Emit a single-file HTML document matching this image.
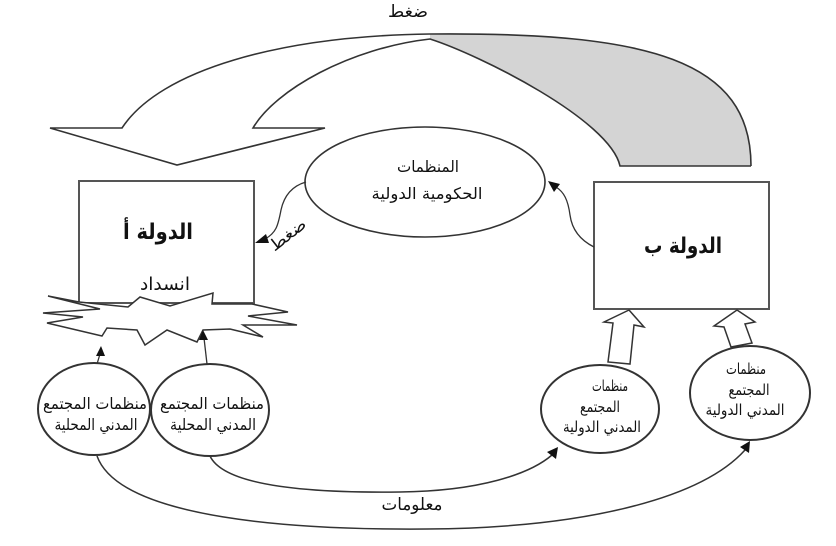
<!DOCTYPE html>
<html>
<head>
<meta charset="utf-8">
<style>
html,body{margin:0;padding:0;background:#fff;}
svg{display:block;}
text{font-family:"DejaVu Sans","Liberation Sans",sans-serif;fill:#111;}
</style>
</head>
<body>
<svg width="836" height="546" viewBox="0 0 836 546" xmlns="http://www.w3.org/2000/svg">
  <!-- Big curved arrow: left (white) part -->
  <path d="M122,128 C160,70 280,36 430,34 L430,39 C350,48 275,90 253,128 L325,128 L177,165 L50,128 Z" fill="#fff" stroke="none"/>
  <!-- right (gray) part -->
  <path d="M430,34 C650,32 751,60 751,166 L620,166 C610,120 480,55 430,39 Z" fill="#d4d4d4" stroke="none"/>
  <!-- outlines -->
  <path d="M751,166 C751,60 650,32 430,34 C280,36 160,70 122,128 L50,128 L177,165 L325,128 L253,128 C275,90 350,48 430,39 C480,55 610,120 620,166 L751,166" fill="none" stroke="#333" stroke-width="1.6" stroke-linejoin="miter"/>

  <!-- top label -->
  <text x="408" y="17" font-size="17" text-anchor="middle" textLength="40" lengthAdjust="spacingAndGlyphs">ضغط</text>

  <!-- Ellipse IGO -->
  <ellipse cx="425" cy="182" rx="120" ry="55" fill="#fff" stroke="#333" stroke-width="1.6"/>
  <text x="428" y="172" font-size="16" text-anchor="middle" textLength="62" lengthAdjust="spacingAndGlyphs">المنظمات</text>
  <text x="427" y="199" font-size="16" text-anchor="middle" textLength="111" lengthAdjust="spacingAndGlyphs">الحكومية الدولية</text>

  <!-- Box A -->
  <rect x="79" y="181" width="175" height="122" fill="#fff" stroke="#555" stroke-width="2"/>
  <text x="158" y="239" font-size="22" font-weight="bold" text-anchor="middle" textLength="70" lengthAdjust="spacingAndGlyphs">الدولة أ</text>
  <text x="165" y="290" font-size="18" text-anchor="middle" textLength="50" lengthAdjust="spacingAndGlyphs">انسداد</text>

  <!-- Box B -->
  <rect x="594" y="182" width="175" height="127" fill="#fff" stroke="#555" stroke-width="2"/>
  <text x="683" y="253" font-size="22" font-weight="bold" text-anchor="middle" textLength="78" lengthAdjust="spacingAndGlyphs">الدولة ب</text>

  <!-- connector ellipse -> box A -->
  <path d="M306,182 C292,186 284,196 281,210 C278,226 276,233 265,239" fill="none" stroke="#333" stroke-width="1.3"/>
  <polygon points="255,243 266,234 269,243" fill="#111"/>
  <text x="0" y="0" font-size="16" text-anchor="middle" textLength="42" lengthAdjust="spacingAndGlyphs" transform="translate(291,239) rotate(-38)">ضغط</text>

  <!-- connector box B -> ellipse -->
  <path d="M594,247 C580,240 572,230 570,215 C568,200 564,192 556,187" fill="none" stroke="#333" stroke-width="1.3"/>
  <polygon points="548,181 560,184 554,192" fill="#111"/>

  <!-- Starburst -->
  <polygon points="48,296 79,302 128,307 140,297 170,306 213,293 212,304 252,304 288,312 248,316 297,325 243,325 263,337 230,329 203,330 197,342 167,330 145,345 137,330 107,328 102,336 47,323 83,317 43,313 100,309" fill="#fff" stroke="#333" stroke-width="1.5" stroke-linejoin="miter"/>

  <!-- arrows from local circles to starburst -->
  <line x1="97" y1="364" x2="100" y2="354" stroke="#333" stroke-width="1.3"/>
  <polygon points="101,346 96,356 105,356" fill="#111"/>
  <line x1="207" y1="364" x2="204" y2="338" stroke="#333" stroke-width="1.3"/>
  <polygon points="203,330 199,340 208,340" fill="#111"/>

  <!-- Left circles -->
  <ellipse cx="94" cy="409" rx="56" ry="46" fill="#fff" stroke="#333" stroke-width="2"/>
  <ellipse cx="210" cy="410" rx="59" ry="46" fill="#fff" stroke="#333" stroke-width="2"/>
  <text x="95" y="409" font-size="16" text-anchor="middle" textLength="104" lengthAdjust="spacingAndGlyphs">منظمات المجتمع</text>
  <text x="96" y="430" font-size="16" text-anchor="middle" textLength="83" lengthAdjust="spacingAndGlyphs">المدني المحلية</text>
  <text x="212" y="409" font-size="16" text-anchor="middle" textLength="104" lengthAdjust="spacingAndGlyphs">منظمات المجتمع</text>
  <text x="213" y="430" font-size="16" text-anchor="middle" textLength="86" lengthAdjust="spacingAndGlyphs">المدني المحلية</text>

  <!-- Block arrows up to box B -->
  <polygon points="629,310 644,327 634,325 630,364 608,362 613,323 604,322" fill="#fff" stroke="#333" stroke-width="1.5" stroke-linejoin="miter"/>
  <polygon points="737,310 755,322 745,324 752,343 731,347 724,327 714,326" fill="#fff" stroke="#333" stroke-width="1.5" stroke-linejoin="miter"/>

  <!-- Right circles -->
  <ellipse cx="600" cy="409" rx="59" ry="44" fill="#fff" stroke="#333" stroke-width="2"/>
  <ellipse cx="750" cy="393" rx="60" ry="47" fill="#fff" stroke="#333" stroke-width="2"/>
  <text x="610" y="391" font-size="15" text-anchor="middle" textLength="36" lengthAdjust="spacingAndGlyphs">منظمات</text>
  <text x="600" y="412" font-size="15" text-anchor="middle" textLength="40" lengthAdjust="spacingAndGlyphs">المجتمع</text>
  <text x="602" y="432" font-size="15" text-anchor="middle" textLength="78" lengthAdjust="spacingAndGlyphs">المدني الدولية</text>
  <text x="746" y="374" font-size="15" text-anchor="middle" textLength="40" lengthAdjust="spacingAndGlyphs">منظمات</text>
  <text x="749" y="395" font-size="15" text-anchor="middle" textLength="41" lengthAdjust="spacingAndGlyphs">المجتمع</text>
  <text x="745" y="415" font-size="15" text-anchor="middle" textLength="79" lengthAdjust="spacingAndGlyphs">المدني الدولية</text>

  <!-- Information curves -->
  <path d="M210,456 C225,488 320,493 400,492 C480,491 530,474 552,455" fill="none" stroke="#333" stroke-width="1.5"/>
  <polygon points="558,447 556,459 547,452" fill="#111"/>
  <path d="M97,456 C120,520 300,530 427,529 C580,528 700,500 745,450" fill="none" stroke="#333" stroke-width="1.5"/>
  <polygon points="750,441 749,453 740,447" fill="#111"/>
  <text x="412" y="510" font-size="17" text-anchor="middle" textLength="61" lengthAdjust="spacingAndGlyphs">معلومات</text>
</svg>
</body>
</html>
